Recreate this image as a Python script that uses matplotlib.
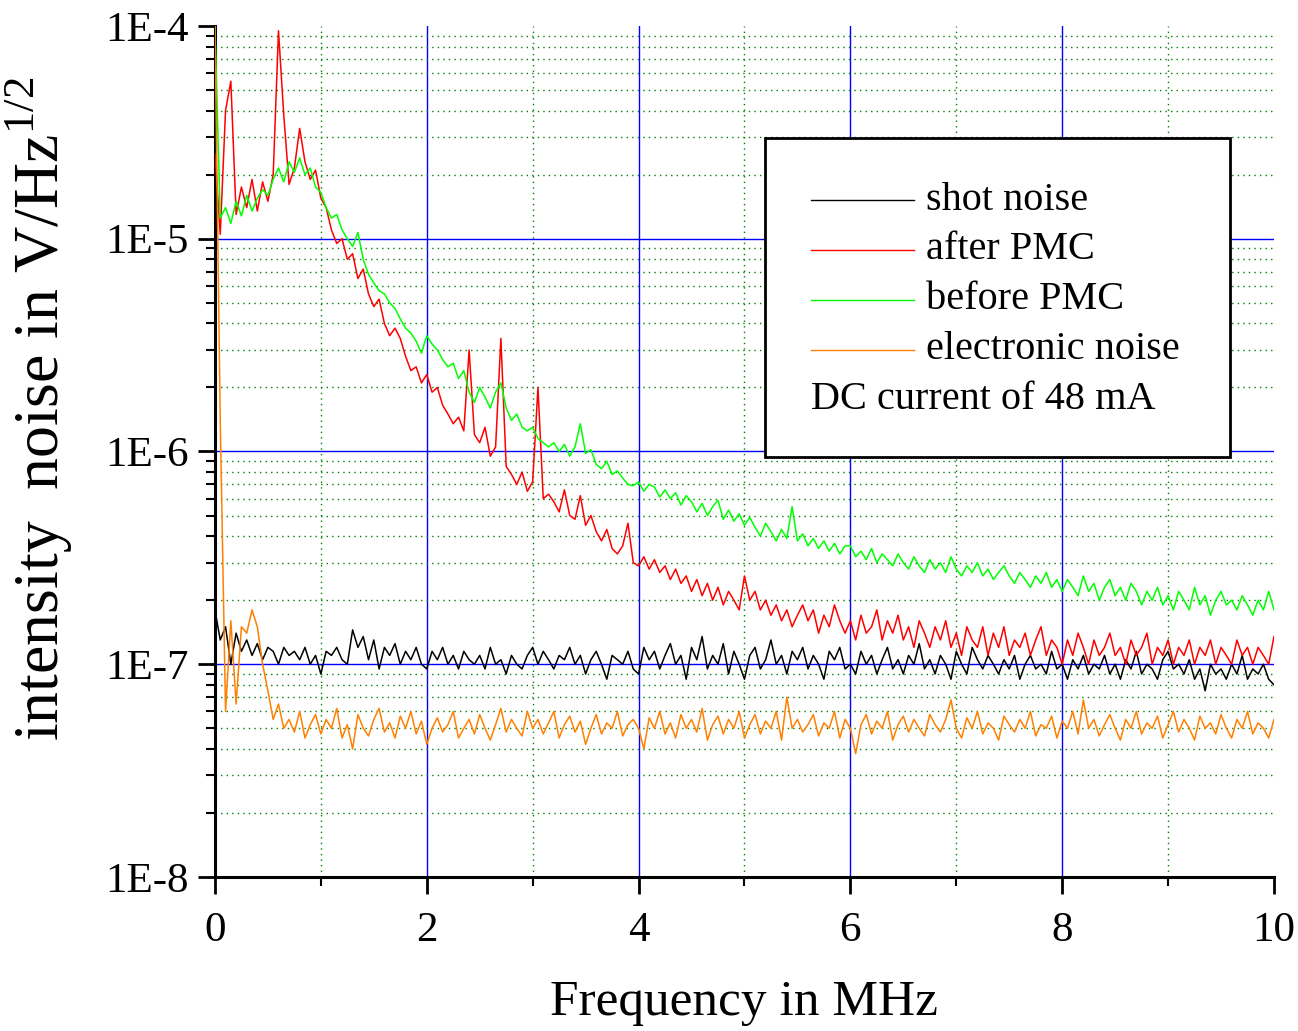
import numpy as np
import matplotlib
matplotlib.use("Agg")
import matplotlib.pyplot as plt
from matplotlib.ticker import FixedLocator, FuncFormatter, LogLocator, NullFormatter
from matplotlib.patches import Rectangle

# frequency bins of the analyser trace (0 ... 10 MHz, 0.05 MHz steps)
freq_mhz = np.linspace(0.0, 10.0, 201)

# all noise values are given in units of 1e-7 V/Hz^1/2, ten bins per row
UNIT = 1e-7

shot_noise = [
    1.8, 1.3, 1.5, 1.0, 1.4, 1.15, 1.3, 1.1, 1.25, 1.05,
    1.2, 1.15, 1.0, 1.2, 1.1, 1.15, 1.05, 1.2, 1.0, 1.1,
    0.9, 1.15, 1.1, 1.2, 1.05, 1.0, 1.45, 1.2, 1.35, 1.05,
    1.3, 0.95, 1.2, 1.1, 1.25, 1.0, 1.15, 1.05, 1.2, 1.0,
    0.95, 1.15, 1.05, 1.2, 1.0, 1.1, 0.95, 1.15, 1.05, 1.0,
    1.1, 0.95, 1.2, 1.0, 1.05, 0.9, 1.1, 1.0, 0.95, 1.1,
    1.2, 1.0, 1.15, 1.05, 0.95, 1.1, 1.05, 1.2, 1.0, 1.1,
    0.9, 1.05, 1.15, 1.0, 0.85, 1.1, 1.05, 1.0, 1.15, 0.95,
    0.9, 1.2, 1.05, 1.15, 0.95, 1.1, 1.25, 1.0, 1.1, 0.85,
    1.2, 1.05, 1.35, 0.95, 1.1, 1.0, 1.25, 0.9, 1.15, 1.0,
    0.85, 1.1, 1.2, 0.95, 1.05, 1.3, 1.0, 1.1, 0.9, 1.15,
    1.05, 1.2, 0.95, 1.1, 1.0, 0.85, 1.15, 1.05, 1.2, 0.95,
    1.0, 0.9, 1.15, 1.0, 1.1, 0.9, 1.05, 1.2, 0.95, 1.05,
    0.9, 1.1, 1.0, 1.25, 0.95, 1.05, 0.9, 1.1, 1.0, 0.85,
    1.15, 1.0, 0.9, 1.2, 1.05, 0.95, 1.1, 1.0, 0.9, 1.05,
    0.95, 1.1, 0.85, 1.0, 1.1, 0.95, 1.0, 0.9, 1.15, 0.95,
    1.0, 0.85, 1.05, 0.95, 1.1, 0.9, 1.0, 0.95, 1.1, 0.9,
    1.0, 0.85, 1.05, 0.95, 1.15, 0.9, 1.0, 0.95, 0.85, 1.05,
    1.15, 0.95, 1.0, 0.9, 1.05, 0.85, 0.95, 0.75, 1.0, 0.9,
    0.95, 0.85, 1.0, 0.9, 1.1, 0.85, 0.95, 0.9, 1.0, 0.85,
    0.8,
]

after_pmc = [
    250, 105, 400, 550, 130, 175, 140, 190, 135, 185,
    150, 200, 950, 380, 180, 215, 330, 230, 190, 210,
    155, 140, 110, 95, 100, 80, 85, 65, 72, 55,
    48, 52, 40, 35, 38, 34, 28, 24, 25, 21,
    23, 19, 20, 16.5, 15, 13.5, 14.5, 12.5, 30, 12,
    11, 13, 9.5, 10.5, 34, 8.5, 7.8, 7.0, 8.0, 6.5,
    7.2, 20, 6.0, 6.3, 5.8, 5.2, 6.6, 5.0, 4.8, 6.2,
    4.5, 5.0, 4.2, 3.8, 4.3, 3.5, 3.3, 3.6, 4.6, 3.0,
    2.9, 3.2, 2.8, 3.1, 2.7, 2.9, 2.5, 2.8, 2.4, 2.6,
    2.2, 2.5, 2.1, 2.4, 2.0, 2.3, 1.9, 2.2, 2.0, 1.8,
    2.6, 2.0, 2.2, 1.8, 2.0, 1.7, 1.9, 1.6, 1.8, 1.5,
    1.7, 1.9, 1.6, 1.8, 1.4, 1.7, 1.5, 1.9, 1.6, 1.4,
    1.6, 1.3, 1.7, 1.4, 1.5, 1.8, 1.3, 1.6, 1.4, 1.7,
    1.3, 1.5, 1.2, 1.6, 1.4, 1.2, 1.5, 1.3, 1.6, 1.2,
    1.4, 1.1, 1.5, 1.3, 1.2, 1.5, 1.1, 1.4, 1.2, 1.5,
    1.1, 1.3, 1.2, 1.4, 1.1, 1.3, 1.5, 1.1, 1.3, 1.2,
    1.0, 1.3, 1.1, 1.4, 1.2, 1.0, 1.3, 1.1, 1.2, 1.4,
    1.1, 1.2, 1.0, 1.3, 1.1, 1.2, 1.4, 1.0, 1.2, 1.1,
    1.3, 1.0, 1.2, 1.1, 1.3, 1.0, 1.2, 1.1, 1.3, 1.0,
    1.2, 1.1, 1.0, 1.3, 1.1, 1.2, 1.0, 1.2, 1.1, 1.0,
    1.35,
]

before_pmc = [
    1000, 125, 140, 118, 150, 128, 160, 135, 155, 170,
    160, 190, 215, 185, 230, 205, 240, 200, 215, 175,
    165, 140, 125, 130, 110, 100, 92, 107, 80, 68,
    62, 57, 55, 50, 47, 42, 38, 36, 33, 29,
    35, 32, 30, 27, 25, 26, 22, 24, 19, 17,
    20, 18, 16, 19, 21, 16, 14, 15, 13, 12.5,
    13, 11.5, 11, 10.5, 11, 10, 10.8, 9.5, 10.5, 13.5,
    9.8, 10.2, 8.7, 8.3, 9.0, 7.8, 8.1, 7.5, 7.0, 6.9,
    7.2, 6.5, 7.0, 6.8, 6.1, 6.6, 6.0, 6.4, 5.6, 6.2,
    5.8, 5.2, 5.7, 5.0, 5.5, 5.9, 4.8, 5.3, 4.7, 5.1,
    4.5, 4.9, 4.4, 4.0, 4.6, 4.2, 3.8, 4.3, 3.9, 5.5,
    3.8, 4.1, 3.6, 3.9, 3.5, 3.8, 3.4, 3.7, 3.3, 3.6,
    3.6, 3.2, 3.4, 3.1, 3.5, 3.0, 3.3, 3.1, 2.9, 3.3,
    3.0, 2.8, 3.2, 2.9, 2.7, 3.1, 2.8, 3.0, 2.7, 3.2,
    2.8, 2.6, 2.9, 2.7, 3.0, 2.6, 2.8, 2.5, 2.7, 2.9,
    2.6, 2.4, 2.7, 2.5, 2.3, 2.6, 2.4, 2.7, 2.3, 2.5,
    2.2, 2.5, 2.3, 2.1, 2.6, 2.2, 2.4, 2.0, 2.3, 2.5,
    2.1, 2.3, 2.0, 2.4, 2.2, 1.9, 2.2, 2.0, 2.3, 1.9,
    2.1, 1.8, 2.2, 2.0, 1.8, 2.3, 1.9, 2.1, 1.7, 2.0,
    2.2, 1.9, 2.0, 1.8, 2.1, 1.9, 1.7, 2.0, 1.8, 2.2,
    1.8,
]

electronic_noise = [
    1000, 14, 0.6, 1.6, 0.65, 1.5, 1.4, 1.8, 1.5, 1.0,
    0.75, 0.55, 0.65, 0.5, 0.55, 0.48, 0.6, 0.45, 0.52, 0.58,
    0.47, 0.55, 0.5, 0.62, 0.45, 0.52, 0.4, 0.58, 0.5, 0.46,
    0.55, 0.62, 0.48, 0.53, 0.45, 0.57, 0.5, 0.6, 0.47, 0.54,
    0.42, 0.5, 0.56, 0.48, 0.52, 0.6, 0.45, 0.5, 0.55, 0.47,
    0.58, 0.5, 0.44, 0.52, 0.62, 0.48, 0.55, 0.5, 0.46, 0.6,
    0.5, 0.55, 0.47, 0.53, 0.6, 0.45, 0.52, 0.57, 0.48, 0.54,
    0.42, 0.5, 0.58, 0.47, 0.53, 0.5, 0.6, 0.46, 0.52, 0.55,
    0.5, 0.4, 0.56, 0.5, 0.6, 0.47, 0.53, 0.45, 0.58, 0.5,
    0.55, 0.48, 0.62, 0.44, 0.52, 0.57, 0.47, 0.55, 0.5, 0.6,
    0.45, 0.52, 0.58, 0.47, 0.54, 0.5, 0.6, 0.44, 0.7, 0.5,
    0.55, 0.48, 0.52, 0.58, 0.46, 0.53, 0.5, 0.6, 0.45, 0.55,
    0.5, 0.38, 0.52, 0.58, 0.47, 0.54, 0.5, 0.6, 0.44, 0.52,
    0.57, 0.48, 0.55, 0.5, 0.46, 0.58, 0.52, 0.48, 0.55, 0.68,
    0.5, 0.45, 0.56, 0.5, 0.6, 0.47, 0.53, 0.5, 0.44, 0.57,
    0.52, 0.48, 0.55, 0.5, 0.6, 0.46, 0.52, 0.5, 0.57, 0.45,
    0.54, 0.5, 0.6, 0.47, 0.68, 0.5, 0.55, 0.46, 0.52, 0.58,
    0.5, 0.44, 0.55, 0.5, 0.6, 0.47, 0.53, 0.5, 0.57, 0.45,
    0.52, 0.6, 0.48, 0.55, 0.5, 0.44, 0.57, 0.5, 0.53, 0.47,
    0.58, 0.5, 0.45, 0.55, 0.5, 0.6, 0.47, 0.53, 0.5, 0.45,
    0.55,
]

series_labels = ["shot noise", "after PMC", "before PMC", "electronic noise"]
series_colors = ["#000000", "#ff0000", "#00ff00", "#ff8000"]
note_text = "DC current of 48 mA"

x_major = [0, 2, 4, 6, 8, 10]
x_minor = [1, 3, 5, 7, 9]
y_decades = [1e-8, 1e-7, 1e-6, 1e-5, 1e-4]


def style_axes(ax):
    ax.set_yscale("log")
    ax.set_xlim(x_major[0], x_major[-1])
    ax.set_ylim(y_decades[0], y_decades[-1])

    ax.xaxis.set_major_locator(FixedLocator(x_major))
    ax.xaxis.set_minor_locator(FixedLocator(x_minor))
    ax.yaxis.set_major_locator(FixedLocator(y_decades))
    ax.yaxis.set_minor_locator(LogLocator(base=10, subs=range(2, 10)))
    ax.yaxis.set_minor_formatter(NullFormatter())
    ax.yaxis.set_major_formatter(FuncFormatter(lambda v, p: "1E%d" % round(np.log10(v))))

    ax.tick_params(which="major", direction="out", length=12, width=2, labelsize=31)
    ax.tick_params(which="minor", direction="out", length=6.5, width=1.5)
    ax.tick_params(axis="x", which="major", pad=13)
    ax.tick_params(axis="y", which="major", pad=7)

    for side in ["top", "right"]:
        ax.spines[side].set_visible(False)
    for side in ["left", "bottom"]:
        ax.spines[side].set_linewidth(2.2)

    # dotted green minor grid, solid blue major grid (not on the frame edges)
    ax.grid(which="minor", color="#008000", linestyle=(0, (1, 3)), linewidth=1.0, zorder=0)
    for x in x_major[1:-1]:
        ax.axvline(x, color="#0000ff", linewidth=1.0, zorder=1)
    for y in y_decades[1:-1]:
        ax.axhline(y, color="#0000ff", linewidth=1.0, zorder=1)


def draw_key(ax):
    # framed key box in the upper right part of the plot
    ax.add_patch(Rectangle((0.5194, 0.4935), 0.439, 0.3749, transform=ax.transAxes,
                           facecolor="white", edgecolor="black", linewidth=2, zorder=5))
    rows = [0.7955, 0.7368, 0.6781, 0.6193]
    for label, color, y in zip(series_labels, series_colors, rows):
        ax.plot([0.5628, 0.6601], [y, y], transform=ax.transAxes, color=color,
                linewidth=1.0, zorder=6, clip_on=False)
        ax.text(0.6714, y, label, transform=ax.transAxes, fontsize=29,
                va="center", ha="left", zorder=6)
    ax.text(0.5628, 0.5605, note_text, transform=ax.transAxes, fontsize=29,
            va="center", ha="left", zorder=6)


def main():
    plt.rcParams["font.family"] = ["Liberation Serif", "DejaVu Serif"]
    plt.rcParams["mathtext.fontset"] = "custom"
    plt.rcParams["mathtext.rm"] = "Liberation Serif"

    fig = plt.figure(figsize=(12.98, 10.31), dpi=100)
    ax = fig.add_subplot(111)
    fig.subplots_adjust(left=0.1656, right=0.9815, bottom=0.1494, top=0.9748)

    for values, label, color in zip([shot_noise, after_pmc, before_pmc, electronic_noise],
                                    series_labels, series_colors):
        ax.plot(freq_mhz, np.array(values) * UNIT, color=color, linewidth=1.1,
                label=label, zorder=3)

    style_axes(ax)
    draw_key(ax)

    ax.set_xlabel("Frequency in MHz", fontsize=37, labelpad=21)
    ax.set_ylabel("intensity  noise in V/Hz$^{\\mathregular{1/2}}$", fontsize=46)
    ax.yaxis.set_label_coords(-0.132, 0.55)

    fig.savefig("out.png", dpi=100)


if __name__ == "__main__":
    main()
